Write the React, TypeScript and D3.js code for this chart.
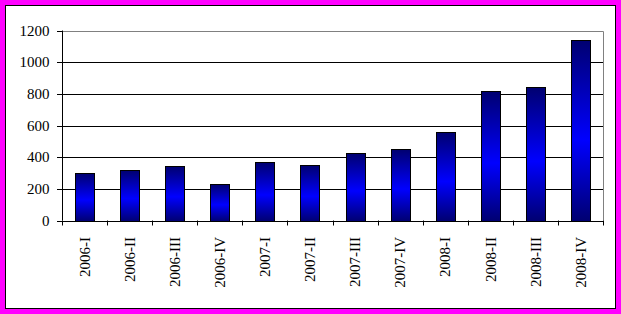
import React from "react";
import * as d3 from "d3";

const categories = [
  "2006-I", "2006-II", "2006-III", "2006-IV",
  "2007-I", "2007-II", "2007-III", "2007-IV",
  "2008-I", "2008-II", "2008-III", "2008-IV",
];
const values = [297, 316, 343, 228, 372, 353, 424, 449, 562, 820, 845, 1140];
const yTicks = [0, 200, 400, 600, 800, 1000, 1200];

const W = 621;
const H = 314;
const plot = { left: 62, right: 603, top: 30.5, bottom: 220.5 };
const FONT = "'Liberation Serif', 'Times New Roman', serif";

export default function App() {
  const x = d3
    .scaleBand<string>()
    .domain(categories)
    .range([plot.left, plot.right])
    .paddingInner(0)
    .paddingOuter(0);
  const y = d3.scaleLinear().domain([0, 1200]).range([plot.bottom, plot.top]);
  const bw = 19;

  return (
    <svg
      width={W}
      height={H}
      style={{ position: "absolute", left: 0, top: 0, display: "block" }}
      fontFamily={FONT}
    >
      <defs>
        <linearGradient id="barGrad" x1="0" y1="0" x2="0" y2="1">
          <stop offset="0%" stopColor="#000070" />
          <stop offset="55%" stopColor="#0000ff" />
          <stop offset="100%" stopColor="#000070" />
        </linearGradient>
      </defs>
      <rect x={0} y={0} width={W} height={H} fill="#ff00ff" />
      <rect x={5.5} y={5.5} width={610} height={303} fill="#ffffff" stroke="#000" strokeWidth={1} />

      {/* gridlines */}
      {yTicks.slice(1, -1).map((t) => (
        <line
          key={t}
          x1={plot.left}
          x2={plot.right}
          y1={Math.round(y(t)) + 0.5}
          y2={Math.round(y(t)) + 0.5}
          stroke="#000"
        />
      ))}
      {/* plot border top & right */}
      <polyline
        points={`${plot.left},${Math.round(y(1200)) + 0.5} ${plot.right + 0.5},${Math.round(y(1200)) + 0.5} ${plot.right + 0.5},${plot.bottom}`}
        fill="none"
        stroke="#808080"
      />

      {/* bars */}
      {categories.map((c, i) => {
        const cx = (x(c) as number) + x.bandwidth() / 2;
        const top = y(values[i]);
        return (
          <rect
            key={c}
            x={Math.round(cx - bw / 2) + 0.5}
            y={Math.round(top) + 0.5}
            width={bw}
            height={Math.round(plot.bottom) - Math.round(top)}
            fill="url(#barGrad)"
            stroke="#000"
            strokeWidth={1}
          />
        );
      })}

      {/* y axis */}
      <line x1={plot.left + 0.5} x2={plot.left + 0.5} y1={plot.top} y2={plot.bottom} stroke="#000" />
      {yTicks.map((t) => (
        <g key={t}>
          <line
            x1={plot.left - 5}
            x2={plot.left}
            y1={Math.round(y(t)) + 0.5}
            y2={Math.round(y(t)) + 0.5}
            stroke="#000"
          />
          <text x={49.5} y={y(t)} dy="0.35em" textAnchor="end" fontSize={15} fill="#000">
            {t}
          </text>
        </g>
      ))}

      {/* x axis */}
      <line x1={plot.left} x2={plot.right + 1} y1={Math.round(plot.bottom) + 0.5} y2={Math.round(plot.bottom) + 0.5} stroke="#000" />
      {categories.map((c, i) => (
        <line
          key={"t" + c}
          x1={Math.round(x(c) as number) + 0.5}
          x2={Math.round(x(c) as number) + 0.5}
          y1={plot.bottom}
          y2={plot.bottom + 5}
          stroke="#000"
        />
      ))}
      <line
        x1={plot.right + 0.5}
        x2={plot.right + 0.5}
        y1={plot.bottom}
        y2={plot.bottom + 5}
        stroke="#000"
      />
      {categories.map((c) => {
        const cx = (x(c) as number) + x.bandwidth() / 2;
        return (
          <text
            key={"l" + c}
            transform={`translate(${cx},237) rotate(-90)`}
            dy="0.35em"
            textAnchor="end"
            fontSize={15}
            fill="#000"
          >
            {c}
          </text>
        );
      })}
    </svg>
  );
}
